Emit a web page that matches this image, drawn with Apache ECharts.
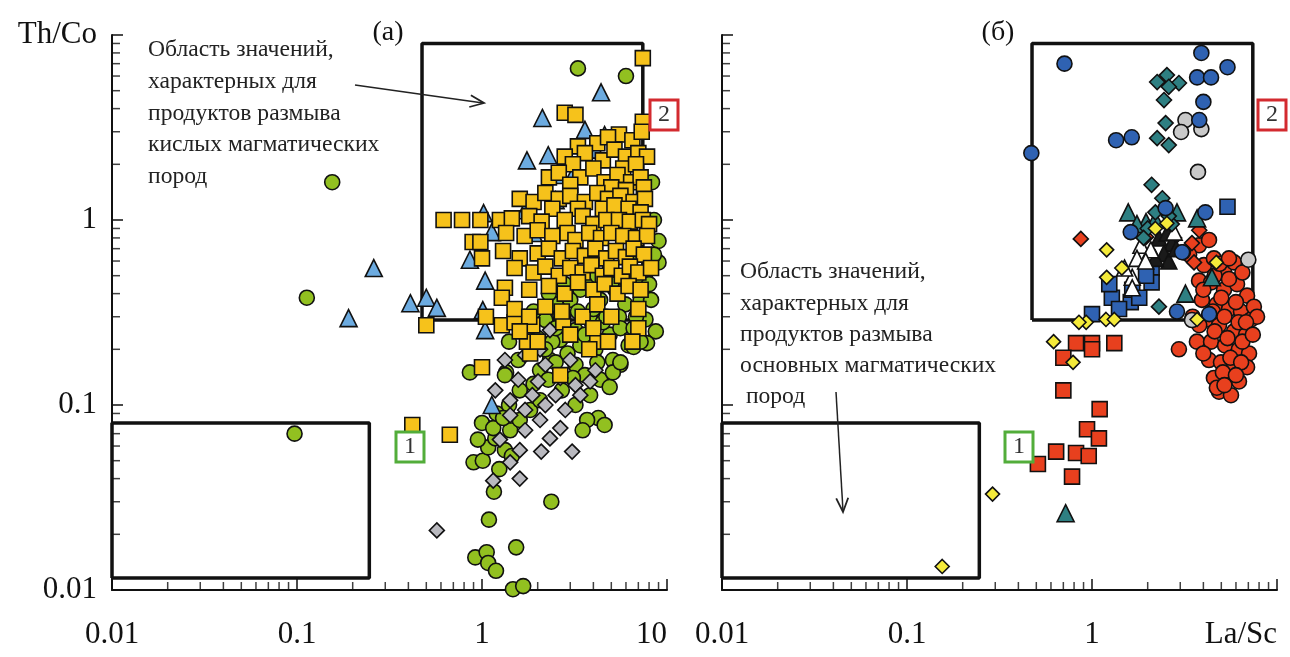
<!DOCTYPE html>
<html>
<head>
<meta charset="utf-8">
<script src="https://cdn.jsdelivr.net/npm/echarts@6/dist/echarts.min.js"></script>
<style>
html,body{margin:0;padding:0;background:#fff;}
#chart{width:1290px;height:657px;}
</style>
</head>
<body>
<div id="chart"></div>
<script>
// ---------- tick labels ----------
const xTickLabelsA = ['0.01', '0.1', '1', '10'];
const xTickLabelsB = ['0.01', '0.1', '1', 'La/Sc'];
const yTickLabels = ['0.01', '0.1', '1', 'Th/Co'];
const minorMantissas = [2, 3, 4, 5, 6, 7, 8, 9];
const decades = [0.01, 0.1, 1];

// ---------- field boxes (La/Sc, Th/Co) ----------
const felsicBoxX = [0.474, 7.4];
const felsicBoxY = [0.288, 9.0];
const maficBoxX = [0.01, 0.246];
const maficBoxY = [0.0116, 0.08];

// ---------- panel (a) ----------
const aSquares = [
[7.4,7.5],[2.8,3.8],[3.2,3.7],[7.4,3.4],[0.5,0.27],[0.42,0.078],[0.67,0.069],[1.0,0.16],
[1.82,0.19],[2.65,0.145],[4.2,0.22],[7.0,0.26],[1.75,0.22],[1.28,0.27],[1.5,0.28],[1.87,0.27],[2.75,0.28],
[5.5,2.9],[6.5,2.7],[4.2,2.6],[7.3,3.0],[3.3,2.5],[4.8,2.8],
[2.8,2.2],[3.6,2.3],[4.5,2.1],[5.2,2.4],[6.0,2.2],[7.0,2.3],[7.8,2.2],[3.1,2.0],[5.8,1.9],[6.8,2.0],
[2.3,1.7],[2.6,1.8],[3.4,1.7],[4.0,1.9],[4.6,1.6],[5.4,1.75],[6.4,1.6],[7.2,1.7],[3.0,1.55],[5.0,1.5],[6.0,1.45],[7.5,1.5],
[1.6,1.3],[1.9,1.25],[2.2,1.4],[2.6,1.3],[3.0,1.35],[3.6,1.25],[4.2,1.4],[4.8,1.3],[5.6,1.35],[6.6,1.25],[7.6,1.3],
[2.4,1.15],[3.3,1.15],[4.5,1.15],[5.2,1.2],[6.2,1.15],[7.2,1.1],
[0.62,1.0],[0.78,1.0],[0.98,1.0],[1.25,1.0],[1.45,1.02],[1.8,1.05],[2.1,0.98],[2.8,1.0],[3.5,1.05],[4.0,0.95],[4.7,1.0],[5.5,1.0],[6.3,0.98],[7.4,1.0],[8.0,0.95],
[0.89,0.76],[0.98,0.76],[1.0,0.62],[1.35,0.85],[1.7,0.82],[2.0,0.88],[2.4,0.82],[2.9,0.85],[3.2,0.78],[3.8,0.85],[4.4,0.8],[5.0,0.85],[5.8,0.82],[6.8,0.8],[7.8,0.82],
[1.3,0.68],[1.6,0.62],[2.0,0.66],[2.3,0.7],[2.7,0.62],[3.1,0.68],[3.6,0.64],[4.1,0.7],[4.7,0.62],[5.3,0.68],[6.0,0.63],[6.6,0.7],[7.5,0.65],
[1.5,0.55],[1.9,0.52],[2.2,0.56],[2.6,0.5],[3.0,0.55],[3.5,0.52],[3.9,0.57],[4.5,0.5],[5.0,0.55],[5.7,0.5],[6.3,0.56],[7.0,0.52],[8.2,0.55],
[1.33,0.43],[1.28,0.38],[1.8,0.42],[2.3,0.44],[2.8,0.4],[3.3,0.46],[4.0,0.42],[4.6,0.45],[5.4,0.4],[6.2,0.44],[7.2,0.42],
[1.5,0.33],[1.8,0.3],[2.2,0.34],[2.7,0.32],[3.5,0.3],[4.2,0.35],[5.0,0.3],[7.0,0.33],[1.05,0.3],
[1.6,0.25],[2.0,0.22],[3.0,0.24],[4.0,0.26],[4.8,0.22],[6.5,0.22],[3.8,0.2]
];
const aCircles = [
[3.3,6.6],[6.0,6.0],[0.155,1.6],[0.113,0.38],[0.097,0.07],[9.0,0.77],[9.0,0.59],[8.5,1.0],[8.3,1.6],
[0.86,0.15],[1.35,0.15],[1.16,0.034],[2.37,0.030],[1.09,0.024],[1.53,0.017],[0.92,0.015],[1.06,0.016],
[1.08,0.014],[1.19,0.0127],[1.47,0.0101],[1.67,0.0105],[0.9,0.049],[1.01,0.05],[1.08,0.059],[0.95,0.065],
[1.18,0.066],[1.33,0.057],[1.42,0.073],[1.6,0.083],[1.24,0.045],[1.45,0.053],[1.82,0.094],[2.06,0.106],
[2.06,0.154],[2.33,0.175],[2.65,0.225],[3.2,0.254],[3.85,0.288],[4.35,0.37],[5.25,0.42],[5.95,0.35],
[7.2,0.37],[7.65,0.29],[8.7,0.25],[6.2,0.21],[5.1,0.175],[4.36,0.137],[3.84,0.113],[3.2,0.1],[2.7,0.12],
[2.28,0.137],[1.82,0.2],[1.57,0.175],[1.33,0.145],[1.6,0.12],[1.78,0.27],[2.2,0.288],[2.65,0.306],
[3.4,0.21],[4.1,0.2],[4.9,0.24],[3.2,0.165],[3.6,0.145],[5.6,0.165],[4.25,0.085],[4.6,0.078],[3.7,0.083],
[3.5,0.073],[4.9,0.125],[5.1,0.15],[7.8,0.216],[6.6,0.206],[5.6,0.17],[3.85,0.47],[4.9,0.54],[6.3,0.6],
[7.6,0.5],[8.2,0.37],[3.4,0.42],[3.0,0.37],[2.5,0.35],[2.0,0.23],[2.9,0.19],[1.2,0.09],[1.4,0.1],
[1.0,0.08],[1.15,0.075],[1.3,0.085],[2.4,0.22],[3.6,0.24],[4.5,0.28],[5.5,0.3],[6.8,0.3],[1.9,0.13],[2.5,0.17],
[1.7,0.3],[2.3,0.4],[2.8,0.45],[3.3,0.32],[4.0,0.33],[4.7,0.3],[5.6,0.26],[6.6,0.26],[7.2,0.22],[2.2,0.2],
[3.1,0.14],[4.2,0.17],[2.5,0.26],[1.4,0.22],[1.9,0.32],[6.0,0.5],[7.0,0.45],[5.0,0.45],[4.2,0.5],[8.0,0.45],[8.5,0.65]
];
const aTriangles = [
[4.4,4.9],[2.12,3.56],[0.26,0.55],[0.19,0.295],[0.41,0.355],[0.5,0.38],[0.57,0.335],
[1.02,1.09],[1.13,0.86],[1.71,1.13],[0.86,0.61],[1.04,0.47],[1.01,0.326],[1.04,0.254],
[1.75,2.1],[2.28,2.24],[2.65,1.75],[3.2,1.86],[2.2,1.45],[2.5,1.28],[3.6,3.07],[4.6,2.88],[4.1,2.4],
[1.13,0.1],[1.9,0.85]
];
const aDiamonds = [
[0.57,0.021],[1.15,0.039],[1.6,0.04],[2.09,0.056],[3.07,0.056],[1.25,0.065],[1.42,0.049],
[1.71,0.073],[2.06,0.083],[2.33,0.066],[2.65,0.075],[1.71,0.094],[2.2,0.1],[1.42,0.106],[1.87,0.113],
[2.5,0.113],[1.57,0.137],[2.01,0.134],[2.65,0.14],[3.2,0.128],[3.84,0.134],[1.33,0.175],[1.71,0.186],
[2.2,0.165],[3.0,0.175],[4.1,0.154],[1.42,0.088],[2.82,0.094],[2.06,0.2],[2.33,0.254],[3.4,0.113],
[1.18,0.12],[1.6,0.057]
];

// ---------- panel (б) ----------
const bRedCircles = [
[4.03,0.57],[4.56,0.62],[5.17,0.54],[5.86,0.59],[3.79,0.47],[4.4,0.46],[5.17,0.42],[6.08,0.45],[6.89,0.39],
[3.93,0.37],[4.73,0.35],[5.5,0.33],[6.39,0.32],[7.24,0.29],[4.18,0.29],[4.86,0.27],[5.86,0.25],[6.8,0.24],
[3.69,0.22],[4.4,0.22],[5.24,0.21],[6.23,0.2],[7.06,0.19],[4.29,0.175],[4.98,0.17],[5.86,0.165],[6.89,0.16],
[4.56,0.14],[5.37,0.137],[6.23,0.134],[4.86,0.118],[5.64,0.113],[4.73,0.124],[2.95,0.2],[3.79,0.73],
[3.35,0.65],[4.29,0.78],[4.6,0.5],[5.5,0.48],[6.5,0.52],[4.0,0.42],[5.0,0.38],[6.0,0.36],[7.5,0.34],
[4.5,0.32],[5.2,0.3],[6.2,0.28],[3.8,0.27],[4.6,0.25],[5.4,0.23],[6.5,0.22],[4.0,0.19],[5.6,0.18],
[6.4,0.17],[5.1,0.15],[6.0,0.145],[5.2,0.128],[4.9,0.58],[5.5,0.62],[3.5,0.3],[7.8,0.3],[6.8,0.28],[7.4,0.24]
];
const bRedDiamonds = [[0.87,0.79],[3.8,0.88],[3.47,0.75],[3.56,0.59],[1.96,0.81],[2.78,0.8]];
const bRedSquares = [
[0.82,0.216],[1.0,0.216],[1.32,0.216],[0.7,0.18],[0.7,0.12],[1.1,0.095],[0.94,0.074],[1.09,0.066],
[0.64,0.056],[0.82,0.055],[0.96,0.053],[0.51,0.048],[0.78,0.041],[1.0,0.2]
];
const bBlueSquares = [
[5.4,1.18],[2.1,0.55],[2.1,0.46],[1.62,0.36],[1.28,0.38],[1.24,0.45],[1.0,0.31],[1.96,0.5],[1.65,0.42],[1.4,0.33],[1.8,0.38]
];
const bBlackTriangles = [[2.3,0.8],[2.55,0.85],[2.7,0.75],[2.45,0.66],[2.6,0.6],[2.2,0.62],[2.85,0.7]];
const bWhiteTriangles = [[1.84,0.73],[2.08,0.69],[1.75,0.62],[1.65,0.49],[1.65,0.43],[2.78,0.86],[1.5,0.55],[1.95,0.6]];
const bTealTriangles = [[1.57,1.1],[1.96,0.975],[2.88,1.1],[3.7,1.02],[4.45,0.49],[3.2,0.4],[0.72,0.026],[2.2,1.0],[1.75,0.95]];
const bTealDiamonds = [
[2.25,5.57],[2.54,6.07],[2.95,5.5],[2.6,5.25],[2.45,4.45],[2.5,3.34],[2.25,2.77],[2.6,2.54],[2.1,1.55],
[2.4,1.31],[2.3,0.34],[2.7,0.95],[2.0,0.9],[2.6,1.05],[2.2,1.1],[1.9,0.8]
];
const bGrayCircles = [[3.2,3.47],[3.03,2.99],[3.9,3.1],[3.74,1.82],[7.0,0.61],[3.47,0.288]];
const bBlueCircles = [
[0.71,7.0],[0.47,2.3],[3.9,8.0],[5.4,6.7],[3.7,5.9],[4.4,5.9],[4.0,4.35],[3.8,3.47],[1.35,2.7],[1.64,2.8],
[4.1,1.1],[1.62,0.86],[2.88,0.32],[4.3,0.31],[3.1,0.67],[2.5,1.16],[3.07,0.67]
];
const bYellowDiamonds = [
[0.29,0.033],[0.155,0.0134],[0.62,0.22],[0.79,0.17],[0.93,0.28],[1.19,0.29],[1.32,0.29],[3.7,0.29],
[4.7,0.59],[1.45,0.55],[1.2,0.69],[1.2,0.49],[2.54,0.96],[0.85,0.28],[2.2,0.9]
];

// ---------- build ----------
const FONT = '"Liberation Serif", "Times New Roman", serif';
const INK = '#111';

function boxPath(bx, by) {
  return [[bx[0], by[0]], [bx[1], by[0]], [bx[1], by[1]], [bx[0], by[1]], [bx[0], by[0]]];
}
function labelFrom(arr) {
  return function (v) {
    const i = Math.round(Math.log10(v)) + 2;
    return arr[i] !== undefined ? arr[i] : '';
  };
}
function minorX() {
  const out = [];
  decades.forEach(d => minorMantissas.forEach(m => out.push([d * m, 0.01])));
  return out;
}
function minorY() {
  const out = [];
  decades.forEach(d => minorMantissas.forEach(m => out.push([0.01, d * m])));
  return out;
}

function xAxisOf(gi, labels) {
  return {
    type: 'log', logBase: 10, gridIndex: gi, min: 0.01, max: 10,
    axisLine: { lineStyle: { color: INK, width: 2 } },
    axisTick: { inside: true, length: 11, lineStyle: { color: INK, width: 1.5 } },
    axisLabel: { fontFamily: FONT, fontSize: 31, color: INK, margin: 29,
      formatter: labelFrom(labels), alignMaxLabel: 'right' },
    splitLine: { show: false }
  };
}
function yAxisOf(gi, showLabels) {
  return {
    type: 'log', logBase: 10, gridIndex: gi, min: 0.01, max: 10,
    axisLine: { lineStyle: { color: INK, width: 2 } },
    axisTick: { inside: true, length: 11, lineStyle: { color: INK, width: 1.5 } },
    axisLabel: { show: showLabels, fontFamily: FONT, fontSize: 31, color: INK, margin: 15,
      formatter: labelFrom(yTickLabels) },
    splitLine: { show: false }
  };
}

function scatter(gi, data, symbol, size, color, z) {
  return {
    type: 'scatter', xAxisIndex: gi, yAxisIndex: gi, data: data,
    symbol: symbol, symbolSize: size, clip: false, silent: true, z: z || 2,
    itemStyle: { color: color, borderColor: INK, borderWidth: 1.6, opacity: 1 }
  };
}
function boxSeries(gi, bx, by) {
  return {
    type: 'line', xAxisIndex: gi, yAxisIndex: gi, data: boxPath(bx, by),
    symbol: 'none', clip: false, silent: true, z: 1,
    lineStyle: { color: INK, width: 3.5 }
  };
}
function tickSeries(gi) {
  return [
    { type: 'scatter', xAxisIndex: gi, yAxisIndex: gi, data: minorX(), symbol: 'rect',
      symbolSize: [1.5, 8], symbolOffset: [0, -4], clip: false, silent: true, z: 1,
      itemStyle: { color: INK } },
    { type: 'scatter', xAxisIndex: gi, yAxisIndex: gi, data: minorY(), symbol: 'rect',
      symbolSize: [8, 1.5], symbolOffset: [4, 0], clip: false, silent: true, z: 1,
      itemStyle: { color: INK } }
  ];
}

const series = [].concat(
  [boxSeries(0, felsicBoxX, felsicBoxY), boxSeries(0, maficBoxX, maficBoxY)],
  tickSeries(0),
  [
    scatter(0, aCircles, 'circle', 15, '#92c020', 2),
    scatter(0, aDiamonds, 'diamond', 15, '#b9b9bf', 3),
    scatter(0, aTriangles, 'triangle', 17, '#6cabe0', 4),
    scatter(0, aSquares, 'rect', 15, '#f6c21b', 5)
  ],
  [boxSeries(1, felsicBoxX, felsicBoxY), boxSeries(1, maficBoxX, maficBoxY)],
  tickSeries(1),
  [
    scatter(1, bRedCircles, 'circle', 15, '#e8401e', 2),
    scatter(1, bRedDiamonds, 'diamond', 15, '#e8401e', 3),
    scatter(1, bRedSquares, 'rect', 15, '#e8401e', 3),
    scatter(1, bBlueSquares, 'rect', 15, '#2f62b2', 4),
    scatter(1, bBlackTriangles, 'triangle', 16, '#1a1a1a', 4),
    scatter(1, bWhiteTriangles, 'triangle', 16, '#ffffff', 5),
    scatter(1, bTealTriangles, 'triangle', 17, '#2e7f82', 5),
    scatter(1, bTealDiamonds, 'diamond', 15, '#2e7f82', 5),
    scatter(1, bGrayCircles, 'circle', 15, '#c9c9c9', 5),
    scatter(1, bBlueCircles, 'circle', 15, '#2f62b2', 6),
    scatter(1, bYellowDiamonds, 'diamond', 14, '#f4ea3a', 7)
  ]
);

function numBox(cx, cy, s, color) {
  return [
    { type: 'rect', z: 20, shape: { x: cx - 14, y: cy - 15, width: 28, height: 30 },
      style: { fill: '#fff', stroke: color, lineWidth: 3 } },
    { type: 'text', z: 21, x: cx, y: cy,
      style: { text: s, fontFamily: FONT, fontSize: 24, fill: '#333', textAlign: 'center', textVerticalAlign: 'middle' } }
  ];
}
const lineA = ['Область значений,', 'характерных для', 'продуктов размыва', 'кислых магматических', 'пород'];
const lineB = ['Область значений,', 'характерных для', 'продуктов размыва', 'основных магматических', ' пород'];

const graphics = [];
lineA.forEach((s, i) => graphics.push({ type: 'text', z: 20, x: 148, y: 50 + i * 31.7,
  style: { text: s, fontFamily: FONT, fontSize: 23.6, fill: '#222', textVerticalAlign: 'middle' } }));
lineB.forEach((s, i) => graphics.push({ type: 'text', z: 20, x: 740, y: 272 + i * 31.3,
  style: { text: s, fontFamily: FONT, fontSize: 23.6, fill: '#222', textVerticalAlign: 'middle' } }));
graphics.push({ type: 'text', z: 20, x: 388, y: 33,
  style: { text: '(a)', fontFamily: FONT, fontSize: 28, fill: INK, textAlign: 'center', textVerticalAlign: 'middle' } });
graphics.push({ type: 'text', z: 20, x: 998, y: 33,
  style: { text: '(б)', fontFamily: FONT, fontSize: 28, fill: INK, textAlign: 'center', textVerticalAlign: 'middle' } });
graphics.push({ type: 'line', z: 20, shape: { x1: 355, y1: 85, x2: 483, y2: 103 }, style: { stroke: '#222', lineWidth: 1.5 } });
graphics.push({ type: 'polyline', z: 20, shape: { points: [[470.9, 95.2], [484, 103], [469.3, 107.0]] }, style: { stroke: '#222', lineWidth: 1.8, fill: null } });
graphics.push({ type: 'line', z: 20, shape: { x1: 836, y1: 392, x2: 843, y2: 511 }, style: { stroke: '#222', lineWidth: 1.5 } });
graphics.push({ type: 'polyline', z: 20, shape: { points: [[836.2, 498.3], [843, 512], [848.2, 497.7]] }, style: { stroke: '#222', lineWidth: 1.8, fill: null } });
numBox(664, 115, '2', '#d32a2f').forEach(g => graphics.push(g));
numBox(1272, 115, '2', '#d32a2f').forEach(g => graphics.push(g));
numBox(410, 447, '1', '#52ad3a').forEach(g => graphics.push(g));
numBox(1019, 447, '1', '#52ad3a').forEach(g => graphics.push(g));

const chart = echarts.init(document.getElementById('chart'), null, { renderer: 'canvas' });
chart.setOption({
  animation: false,
  backgroundColor: '#fff',
  grid: [
    { left: 112, top: 35, width: 555, height: 555 },
    { left: 722, top: 35, width: 555, height: 555 }
  ],
  xAxis: [xAxisOf(0, xTickLabelsA), xAxisOf(1, xTickLabelsB)],
  yAxis: [yAxisOf(0, true), yAxisOf(1, false)],
  series: series,
  graphic: graphics
});
</script>
</body>
</html>
